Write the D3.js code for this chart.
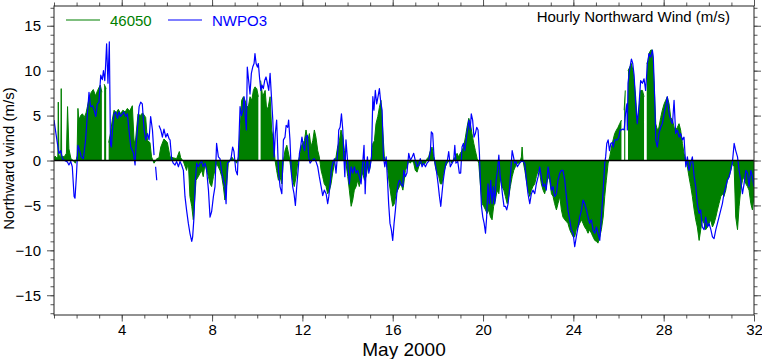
<!DOCTYPE html>
<html>
<head>
<meta charset="utf-8">
<script src="https://cdn.jsdelivr.net/npm/d3@7"></script>
<style>
  body { margin: 0; background: #fff; }
  text { font-family: "Liberation Sans", Arial, sans-serif; }
</style>
</head>
<body>
<svg id="chart" width="762" height="359"></svg>
<script>
'use strict';

/*
 * data: hourly northward wind (m/s), May 2000, [day of month, value]
 * null marks a gap in the record
 */

var buoy46050 = [
  [1.00, 0.2], [1.05, 0.5], [1.10, 0.3], [1.17, 0.4], [1.19, 6.5], [1.22, 0.6], [1.30, 0.3], [1.32, 8.0],
  [1.34, 0.5], [1.45, 0.4], [1.55, 0.8], [1.60, 6.0], [1.66, 1.3], [1.75, 0.2], [1.85, 0.0], [1.95, -0.3],
  [2.02, 0.5], [2.06, 5.8], [2.10, 4.5], [2.18, 5.0], [2.26, 5.2], [2.34, 4.8], [2.42, 5.3], [2.48, 6.0],
  [2.56, 7.0], [2.65, 7.6], [2.74, 7.9], [2.84, 7.2], [2.93, 7.8], [3.05, 8.4], [3.12, 7.6], [3.15, null],
  [3.22, 8.5], [3.31, 8.0], [3.34, null], [3.42, 2.0], [3.50, 3.0], [3.58, 4.5], [3.66, 5.6], [3.75, 5.3],
  [3.85, 5.7], [3.95, 5.2], [4.05, 5.6], [4.15, 5.4], [4.25, 5.8], [4.35, 5.5], [4.47, 6.1], [4.55, 1.9],
  [4.62, 2.5], [4.72, 5.2], [4.82, 5.0], [4.92, 5.3], [5.06, 4.8], [5.14, 2.2], [5.25, 2.0], [5.32, 0.4],
  [5.43, -0.3], [5.55, 0.2], [5.65, 0.3], [5.73, 1.5], [5.87, 2.4], [6.02, 2.0], [6.14, 0.4], [6.28, 0.3],
  [6.43, 0.2], [6.55, 1.0], [6.61, 0.3], [6.73, -0.1], [6.87, -1.1], [6.95, -0.2], [7.02, -4.0], [7.10, -5.1],
  [7.17, -6.6], [7.22, -4.8], [7.29, -2.2], [7.39, -1.8], [7.47, -1.4], [7.54, -1.1], [7.61, -1.8], [7.69, -0.3],
  [7.76, -1.1], [7.84, -1.8], [7.91, -2.6], [7.98, -2.9], [8.06, -1.8], [8.20, -0.3], [8.35, -1.1], [8.43, -1.8],
  [8.50, -2.9], [8.57, -4.4], [8.65, -2.6], [8.72, -0.3], [8.87, 0.4], [9.02, -0.1], [9.09, -0.3], [9.17, 0.4],
  [9.24, 3.4], [9.31, 6.7], [9.39, 7.1], [9.46, 6.7], [9.54, 6.0], [9.61, 6.0], [9.68, 7.1], [9.76, 6.7],
  [9.83, 7.8], [9.90, 8.2], [9.98, 8.0], [10.05, 7.1], [10.10, null], [10.15, 8.9], [10.24, 7.1], [10.35, 7.8],
  [10.42, 5.6], [10.49, 6.0], [10.57, 7.1], [10.64, 3.4], [10.72, 2.2], [10.79, 0.0], [10.86, -1.1], [10.94, -2.2],
  [11.01, -1.8], [11.09, -2.6], [11.16, 0.0], [11.23, 1.1], [11.31, 1.7], [11.42, 0.4], [11.50, -1.1], [11.57, -2.2],
  [11.64, -2.9], [11.72, -1.8], [11.79, -0.3], [11.87, 0.4], [11.94, 1.5], [12.01, 1.9], [12.09, 2.2], [12.16, 3.4],
  [12.24, 2.2], [12.31, 3.0], [12.38, 1.5], [12.46, 2.2], [12.53, 3.4], [12.60, 2.6], [12.68, 1.1], [12.75, 0.4],
  [12.83, -1.1], [12.90, -1.8], [12.97, -2.6], [13.05, -2.9], [13.12, -3.7], [13.20, -3.3], [13.27, -2.6], [13.34, -1.4],
  [13.42, -0.3], [13.49, 0.4], [13.56, 1.5], [13.64, 2.2], [13.71, 3.4], [13.79, 2.6], [13.86, 1.1], [13.93, -0.3],
  [14.01, -1.8], [14.08, -3.3], [14.16, -5.1], [14.23, -4.4], [14.30, -3.3], [14.38, -2.9], [14.45, -2.2], [14.52, -2.9],
  [14.60, -1.8], [14.67, -1.4], [14.75, -2.2], [14.82, -1.8], [14.89, -0.7], [14.97, -1.1], [15.04, 0.0], [15.12, 1.9],
  [15.19, 2.2], [15.26, 4.1], [15.34, 4.9], [15.41, 5.9], [15.48, 6.7], [15.56, 3.4], [15.63, 0.4], [15.71, -0.3],
  [15.78, -1.1], [15.85, -2.6], [15.93, -4.0], [16.00, -5.1], [16.08, -4.8], [16.15, -3.7], [16.22, -3.3], [16.30, -2.9],
  [16.37, -2.6], [16.45, -3.3], [16.49, -2.6], [16.56, -1.1], [16.63, -0.7], [16.71, -0.1], [16.78, -0.3], [16.86, 0.0],
  [16.93, -0.3], [17.00, -1.1], [17.08, -1.3], [17.15, -0.7], [17.22, -0.3], [17.30, -0.5], [17.45, -0.3], [17.52, 0.2],
  [17.59, 0.4], [17.67, 1.1], [17.74, 1.5], [17.82, 0.4], [17.89, -0.7], [17.96, -1.4], [18.04, -1.8], [18.11, -2.6],
  [18.18, -2.6], [18.26, -1.4], [18.33, -0.7], [18.41, -0.3], [18.48, -0.1], [18.55, 0.0], [18.63, -0.3], [18.70, 0.2],
  [18.78, 0.4], [18.85, 0.8], [18.92, 0.4], [18.99, 0.8], [19.07, 1.1], [19.14, 1.5], [19.22, 2.6], [19.29, 3.7],
  [19.37, 4.7], [19.44, 4.1], [19.51, 3.0], [19.59, 1.9], [19.66, 1.1], [19.74, 0.2], [19.81, -0.3], [19.88, -2.6],
  [19.96, -4.8], [20.03, -5.1], [20.11, -5.5], [20.18, -5.9], [20.25, -5.5], [20.33, -6.3], [20.40, -6.6], [20.47, -5.1],
  [20.55, -4.4], [20.62, -3.3], [20.70, -3.7], [20.77, -1.8], [20.84, -2.9], [20.92, -3.3], [20.99, -4.0], [21.07, -4.8],
  [21.14, -4.0], [21.21, -2.9], [21.29, -1.8], [21.36, -1.1], [21.43, -0.7], [21.51, -0.3], [21.58, -0.3], [21.62, -0.3],
  [21.70, 0.4], [21.73, 1.5], [21.77, 0.0], [21.85, -1.1], [21.92, -2.2], [21.99, -3.3], [22.07, -4.0], [22.14, -3.3],
  [22.21, -2.9], [22.29, -2.6], [22.36, -1.8], [22.44, -1.1], [22.51, -1.4], [22.58, -2.6], [22.66, -3.3], [22.73, -3.7],
  [22.80, -2.9], [22.88, -1.8], [22.95, -2.2], [23.03, -3.7], [23.10, -4.0], [23.17, -4.8], [23.25, -5.5], [23.32, -4.8],
  [23.40, -4.0], [23.47, -5.5], [23.54, -6.3], [23.62, -6.6], [23.69, -6.8], [23.76, -7.0], [23.84, -7.7], [23.91, -8.1],
  [23.99, -8.5], [24.06, -8.5], [24.13, -7.7], [24.21, -7.4], [24.28, -7.0], [24.36, -6.6], [24.43, -7.0], [24.50, -7.4],
  [24.58, -7.7], [24.65, -8.1], [24.72, -7.7], [24.80, -8.1], [24.87, -8.5], [24.95, -8.9], [25.02, -9.0], [25.09, -9.2],
  [25.17, -8.5], [25.24, -7.7], [25.32, -6.3], [25.39, -4.0], [25.46, -2.2], [25.54, -0.3], [25.61, 0.4], [25.69, 1.5],
  [25.76, 2.3], [25.83, 3.0], [25.91, 3.4], [25.98, 3.7], [26.05, 4.1], [26.13, 4.5], [26.17, null], [26.25, 5.6],
  [26.30, 7.8], [26.35, null], [26.42, 10.0], [26.50, 10.4], [26.57, 10.8], [26.64, 10.0], [26.69, 8.9], [26.76, 7.1],
  [26.83, 4.1], [26.91, 5.6], [26.98, 7.8], [27.06, 7.8], [27.13, 7.1], [27.20, null], [27.25, 10.8], [27.31, 11.1],
  [27.35, 11.9], [27.43, 12.3], [27.50, 12.3], [27.57, 8.9], [27.65, 4.1], [27.72, 3.4], [27.79, 3.7], [27.87, 4.8],
  [27.94, 5.6], [28.02, 6.3], [28.09, 6.7], [28.16, 7.1], [28.24, 6.3], [28.31, 4.8], [28.39, 4.5], [28.46, 3.7],
  [28.53, 3.4], [28.61, 3.7], [28.68, 4.1], [28.75, 3.4], [28.83, 1.9], [28.90, 0.8], [28.98, 0.0], [29.05, -0.7],
  [29.12, -1.8], [29.20, -2.9], [29.27, -4.0], [29.35, -5.5], [29.42, -6.6], [29.49, -7.4], [29.57, -8.9], [29.64, -7.7],
  [29.71, -6.6], [29.79, -7.0], [29.86, -7.7], [29.94, -7.4], [30.01, -7.0], [30.08, -6.6], [30.16, -7.4], [30.23, -7.0],
  [30.31, -6.3], [30.38, -5.5], [30.45, -4.8], [30.53, -4.0], [30.60, -3.7], [30.67, -4.0], [30.75, -3.3], [30.82, -2.2],
  [30.90, -1.8], [30.97, -1.1], [31.04, -0.3], [31.12, -0.7], [31.19, -6.3], [31.27, -7.7], [31.34, -5.1], [31.41, -3.3],
  [31.49, -2.2], [31.56, -1.8], [31.64, -2.6], [31.71, -2.9], [31.78, -3.3], [31.86, -4.8], [31.93, -5.5], [32.00, -4.0]
];

var stationNWPO3 = [
  [1.00, 4.5], [1.15, 1.9], [1.22, 0.8], [1.30, 1.1], [1.37, 0.2], [1.47, 0.0], [1.59, -0.15], [1.66, -0.5],
  [1.74, -0.1], [1.81, -0.7], [1.89, -4.0], [1.93, -4.2], [1.99, -1.8], [2.06, 1.7], [2.15, 1.0], [2.21, 0.4],
  [2.30, 0.2], [2.40, 2.3], [2.48, 5.2], [2.55, 7.6], [2.62, 6.0], [2.70, 6.1], [2.77, 5.7], [2.85, 4.9],
  [2.92, 6.3], [2.99, 6.5], [3.07, 9.5], [3.14, 9.0], [3.19, 10.0], [3.25, 8.9], [3.29, 10.8], [3.33, 13.0],
  [3.39, 8.6], [3.45, 13.2], [3.50, 1.8], [3.54, 1.5], [3.60, 3.7], [3.66, 5.2], [3.73, 5.4], [3.81, 4.7],
  [3.88, 5.4], [3.95, 4.9], [4.03, 5.2], [4.10, 5.4], [4.18, 4.9], [4.25, 5.2], [4.32, 3.4], [4.40, 1.5],
  [4.52, 0.8], [4.59, -0.5], [4.63, 1.5], [4.69, 3.4], [4.77, 6.0], [4.84, 6.5], [4.91, 6.3], [4.99, 3.4],
  [5.06, 2.3], [5.14, 3.0], [5.21, 2.3], [5.28, 4.9], [5.36, 3.4], [5.43, 0.6], [5.47, null], [5.50, -0.7],
  [5.55, -2.2], [5.60, null], [5.65, 3.9], [5.73, 3.4], [5.80, 2.6], [5.87, 3.5], [5.95, 2.6], [6.02, 3.0],
  [6.10, 2.4], [6.14, 2.3], [6.21, 0.2], [6.28, -0.3], [6.36, -0.5], [6.43, -0.1], [6.51, -0.7], [6.58, -0.1],
  [6.65, -0.5], [6.73, -1.1], [6.80, -4.0], [6.87, -5.5], [6.95, -7.0], [7.02, -8.1], [7.10, -9.0], [7.14, -8.5],
  [7.20, -6.3], [7.26, -2.2], [7.32, -0.3], [7.39, -0.7], [7.47, -0.3], [7.54, -0.1], [7.61, -0.7], [7.69, -0.3],
  [7.76, -1.1], [7.84, -3.3], [7.91, -6.3], [7.98, -5.7], [8.06, -4.0], [8.13, -2.9], [8.20, 1.9], [8.28, 0.4],
  [8.35, 0.2], [8.43, -1.3], [8.50, -2.2], [8.57, -2.9], [8.62, -4.8], [8.68, -0.3], [8.77, -0.1], [8.84, 0.2],
  [8.91, 1.5], [8.97, 1.0], [9.05, -1.1], [9.12, -1.6], [9.19, 2.3], [9.24, 6.0], [9.30, 5.0], [9.36, 5.6],
  [9.42, 7.1], [9.47, 4.9], [9.52, 3.4], [9.56, 10.4], [9.62, 8.9], [9.68, 7.4], [9.74, 9.7], [9.80, 10.4],
  [9.86, 10.8], [9.90, 11.9], [9.95, 10.8], [10.01, 10.4], [10.05, 10.8], [10.10, 9.3], [10.16, 7.8], [10.21, 8.4],
  [10.27, 8.0], [10.33, 8.9], [10.39, 9.3], [10.45, 8.6], [10.51, 7.8], [10.57, 9.7], [10.63, 7.1], [10.69, 4.5],
  [10.75, 0.4], [10.80, 3.0], [10.86, 4.5], [10.94, -1.1], [11.01, -2.9], [11.09, -3.7], [11.16, 2.3], [11.23, 2.6],
  [11.28, 3.9], [11.35, 3.7], [11.39, 4.5], [11.45, 2.3], [11.51, -1.4], [11.57, -2.9], [11.63, -3.7], [11.69, -5.0],
  [11.75, -2.9], [11.81, -1.1], [11.87, 0.8], [11.92, 1.5], [11.98, 2.6], [12.04, 1.7], [12.10, 1.1], [12.16, 2.6],
  [12.22, 2.8], [12.28, 0.4], [12.34, -0.3], [12.43, 0.0], [12.52, 0.2], [12.60, -0.1], [12.68, -0.7], [12.75, -1.8],
  [12.83, -2.9], [12.90, -3.9], [12.97, -3.3], [13.05, -3.7], [13.12, -4.8], [13.17, -4.0], [13.23, -2.6], [13.28, -1.1],
  [13.34, -0.3], [13.42, 0.2], [13.49, -1.4], [13.57, 1.1], [13.61, 3.4], [13.67, 3.7], [13.73, 5.2], [13.79, 3.4],
  [13.85, -0.3], [13.88, -1.8], [13.93, 2.3], [14.01, -0.3], [14.08, -2.6], [14.16, -0.7], [14.23, -1.4], [14.30, -0.7],
  [14.38, -1.4], [14.45, -1.1], [14.52, -1.8], [14.60, -2.6], [14.67, -0.3], [14.73, 1.7], [14.78, -3.7], [14.82, -1.1],
  [14.88, 0.4], [14.94, -1.4], [15.00, -0.7], [15.06, 0.4], [15.12, 7.1], [15.17, 5.6], [15.23, 7.8], [15.29, 6.3],
  [15.35, 7.1], [15.41, 8.0], [15.47, 6.5], [15.53, 5.6], [15.59, 0.4], [15.65, -0.7], [15.71, 0.4], [15.77, -2.2],
  [15.82, -4.8], [15.88, -7.0], [15.94, -7.7], [16.00, -8.9], [16.06, -7.0], [16.12, -5.5], [16.18, -3.7], [16.24, -2.6],
  [16.30, -2.2], [16.37, -2.6], [16.45, -2.9], [16.49, -1.1], [16.56, -1.8], [16.63, -1.4], [16.71, 0.8], [16.78, 0.0],
  [16.86, 0.4], [16.93, 0.8], [17.00, 0.0], [17.08, -0.7], [17.15, -0.5], [17.22, 0.2], [17.30, -0.7], [17.37, -0.3],
  [17.45, -0.7], [17.52, -0.3], [17.59, -0.1], [17.67, 1.1], [17.71, 3.2], [17.77, 3.0], [17.83, 0.4], [17.89, -0.5],
  [17.95, -1.4], [18.01, -2.6], [18.07, -4.0], [18.13, -5.1], [18.18, -3.7], [18.24, -2.2], [18.30, -1.1], [18.36, -0.3],
  [18.42, 0.0], [18.48, 1.0], [18.55, -0.7], [18.63, -0.3], [18.70, 0.0], [18.75, 1.7], [18.80, -0.3], [18.88, -0.1],
  [18.95, -1.4], [19.01, -1.4], [19.07, 1.5], [19.13, 1.9], [19.19, 1.1], [19.25, 2.2], [19.31, 3.4], [19.37, 4.5],
  [19.43, 3.4], [19.48, 5.2], [19.54, 4.5], [19.60, 2.6], [19.66, 3.0], [19.72, 3.7], [19.78, 3.4], [19.84, 0.8],
  [19.88, -2.2], [19.93, -5.1], [19.99, -6.3], [20.05, -7.0], [20.11, -8.1], [20.16, -6.3], [20.22, -2.6], [20.28, -4.8],
  [20.34, -2.2], [20.40, -4.8], [20.46, -2.9], [20.52, -4.8], [20.58, -2.2], [20.64, -1.1], [20.70, 0.6], [20.76, -1.8],
  [20.81, -2.6], [20.87, -4.0], [20.93, -5.1], [20.99, -5.1], [21.05, -5.5], [21.11, -4.8], [21.17, -3.3], [21.23, -1.1],
  [21.29, 1.1], [21.35, 0.4], [21.40, -0.3], [21.46, -0.1], [21.52, -0.7], [21.62, -0.3], [21.70, -0.1], [21.77, -0.1],
  [21.85, -0.3], [21.92, -2.2], [21.99, -3.7], [22.07, -4.8], [22.14, -3.7], [22.21, -3.3], [22.29, -3.7], [22.36, -2.6],
  [22.44, -1.8], [22.51, -0.7], [22.58, -1.8], [22.66, -2.9], [22.73, -2.6], [22.80, -3.3], [22.88, -0.7], [22.95, -1.8],
  [23.03, -3.3], [23.10, -2.9], [23.17, -4.0], [23.25, -3.7], [23.32, -2.2], [23.40, -1.4], [23.47, -1.1], [23.54, -1.1],
  [23.62, -2.2], [23.69, -4.0], [23.76, -5.5], [23.84, -6.6], [23.91, -7.7], [23.99, -8.1], [24.06, -9.6], [24.13, -8.5],
  [24.21, -7.4], [24.28, -6.3], [24.36, -5.5], [24.43, -4.4], [24.50, -4.8], [24.58, -5.5], [24.65, -6.3], [24.72, -7.0],
  [24.80, -6.6], [24.87, -7.7], [24.95, -8.1], [25.02, -7.4], [25.09, -8.1], [25.17, -8.9], [25.24, -6.3], [25.32, -3.3],
  [25.39, -0.3], [25.43, 0.4], [25.48, 1.9], [25.54, 2.3], [25.60, 1.1], [25.66, 1.9], [25.72, 2.0], [25.77, 1.5],
  [25.83, 2.3], [25.89, 2.3], [25.95, 2.3], [26.01, 2.6], [26.07, 3.4], [26.13, 3.4], [26.19, 3.5], [26.25, 3.4],
  [26.31, 5.2], [26.37, 6.3], [26.39, 3.4], [26.42, 8.6], [26.47, 9.7], [26.51, 10.4], [26.57, 11.3], [26.63, 10.8],
  [26.69, 9.5], [26.76, 6.3], [26.83, 4.1], [26.91, 6.3], [26.98, 8.9], [27.06, 8.6], [27.13, 9.1], [27.20, 7.8],
  [27.28, 10.8], [27.35, 11.9], [27.43, 11.5], [27.50, 12.3], [27.54, 11.5], [27.60, 7.1], [27.65, 2.3], [27.72, 1.5],
  [27.79, 3.0], [27.87, 3.7], [27.94, 4.1], [28.02, 5.2], [28.09, 6.0], [28.16, 7.1], [28.24, 5.2], [28.31, 4.5],
  [28.39, 4.1], [28.46, 6.7], [28.53, 3.0], [28.61, 3.4], [28.68, 2.6], [28.75, 3.0], [28.83, 2.3], [28.90, 2.6],
  [28.98, -0.7], [29.05, 0.4], [29.12, -1.1], [29.20, -0.3], [29.27, 0.4], [29.35, -1.8], [29.42, -2.9], [29.49, -4.8],
  [29.57, -5.9], [29.64, -5.5], [29.71, -7.4], [29.79, -7.7], [29.86, -6.3], [29.94, -7.4], [30.01, -7.0], [30.09, -7.7],
  [30.16, -8.5], [30.23, -8.7], [30.31, -7.7], [30.38, -7.0], [30.45, -6.3], [30.53, -5.5], [30.60, -4.8], [30.67, -3.7],
  [30.75, -2.9], [30.82, -2.2], [30.90, -1.8], [30.97, -1.1], [31.04, -0.3], [31.12, 1.9], [31.19, 1.1], [31.27, 0.4],
  [31.34, -1.1], [31.41, -2.2], [31.49, -3.7], [31.56, -2.6], [31.64, -1.1], [31.71, -1.4], [31.78, -2.9], [31.86, -1.1],
  [31.93, -1.8], [32.00, -2.9]
];

// axis ticks
var xMajorTicks = [4, 8, 12, 16, 20, 24, 28, 32];
var xMinorTicks = d3.range(1, 33);
var yMajorTicks = [-15, -10, -5, 0, 5, 10, 15];
var yMinorTicks = d3.range(-17, 18);

// labels
var seriesNames = ['46050', 'NWPO3'];
var seriesColors = ['#008000', '#0000ff'];
var chartTitle = 'Hourly Northward Wind (m/s)';
var xAxisLabel = 'May 2000';
var yAxisLabel = 'Northward wind (m/s)';


/*
 * layout
 */

var margin = { top: 6, right: 8, bottom: 44, left: 54 };
var width = 762 - margin.left - margin.right;
var height = 359 - margin.top - margin.bottom;

var svg = d3.select('#chart');
var g = svg.append('g').attr('transform', 'translate(' + margin.left + ',' + margin.top + ')');

var x = d3.scaleLinear().domain([1, 32]).range([0, width]);
var y = d3.scaleLinear().domain([-17.2, 17.2]).range([height, 0]);

g.append('clipPath').attr('id', 'plot-clip')
  .append('rect').attr('width', width).attr('height', height);

var plot = g.append('g').attr('clip-path', 'url(#plot-clip)');

function defined(d) { return d[1] !== null; }

// green filled area from zero for 46050
var area = d3.area()
  .defined(defined)
  .x(function(d) { return x(d[0]); })
  .y0(y(0))
  .y1(function(d) { return y(d[1]); });

var line = d3.line()
  .defined(defined)
  .x(function(d) { return x(d[0]); })
  .y(function(d) { return y(d[1]); });

plot.append('path')
  .datum(buoy46050)
  .attr('d', area)
  .attr('fill', seriesColors[0]);

plot.append('path')
  .datum(buoy46050)
  .attr('d', line)
  .attr('fill', 'none')
  .attr('stroke', seriesColors[0])
  .attr('stroke-width', 1);

plot.append('path')
  .datum(stationNWPO3)
  .attr('d', line)
  .attr('fill', 'none')
  .attr('stroke', seriesColors[1])
  .attr('stroke-width', 1.2)
  .attr('stroke-linejoin', 'round');

// zero reference line
g.append('line')
  .attr('x1', 0).attr('x2', width)
  .attr('y1', y(0)).attr('y2', y(0))
  .attr('stroke', '#000')
  .attr('stroke-width', 1.5);


/*
 * axes: ticks on all four sides, pointing outward
 */

function styleAxis(sel) {
  sel.select('.domain').remove();
  sel.selectAll('.tick line').attr('stroke', '#555');
  sel.selectAll('.tick text')
    .attr('fill', '#000')
    .style('font-size', '15px')
    .style('font-family', '"Liberation Sans", Arial, sans-serif');
}

function addAxis(axisFn, scale, ticks, size, transform, labels, pad) {
  var a = axisFn(scale).tickValues(ticks).tickSize(size).tickPadding(pad || 6);
  if (!labels) a.tickFormat('');
  g.append('g').attr('transform', transform).call(a).call(styleAxis);
}

var bottomT = 'translate(0,' + height + ')';
var rightT = 'translate(' + width + ',0)';

addAxis(d3.axisBottom, x, xMinorTicks, 3.5, bottomT, false);
addAxis(d3.axisBottom, x, xMajorTicks, 6.5, bottomT, true, 3);
addAxis(d3.axisTop, x, xMinorTicks, 3.5, 'translate(0,0)', false);
addAxis(d3.axisTop, x, xMajorTicks, 6.5, 'translate(0,0)', false);
addAxis(d3.axisLeft, y, yMinorTicks, 3.5, 'translate(0,0)', false);
addAxis(d3.axisLeft, y, yMajorTicks, 7, 'translate(0,0)', true);
addAxis(d3.axisRight, y, yMinorTicks, 3.5, rightT, false);
addAxis(d3.axisRight, y, yMajorTicks, 7, rightT, false);

// frame
g.append('rect')
  .attr('width', width).attr('height', height)
  .attr('fill', 'none')
  .attr('stroke', '#222')
  .attr('stroke-width', 1);


/*
 * titles and legend
 */

g.append('text')
  .attr('x', width - 24)
  .attr('y', 16)
  .attr('text-anchor', 'end')
  .style('font-size', '15px')
  .text(chartTitle);

svg.append('text')
  .attr('x', margin.left + width / 2)
  .attr('y', 356)
  .attr('text-anchor', 'middle')
  .style('font-size', '19px')
  .text(xAxisLabel);

svg.append('text')
  .attr('transform', 'translate(14,' + (margin.top + height / 2 - 2) + ') rotate(-90)')
  .attr('text-anchor', 'middle')
  .style('font-size', '15px')
  .text(yAxisLabel);

var legend = g.append('g').attr('transform', 'translate(12,14)');
var legendX = [0, 102];

seriesNames.forEach(function(name, i) {
  var item = legend.append('g').attr('transform', 'translate(' + legendX[i] + ',0)');
  item.append('line')
    .attr('x1', 0).attr('x2', 34)
    .attr('y1', 0).attr('y2', 0)
    .attr('stroke', seriesColors[i])
    .attr('stroke-width', 1.2);
  item.append('text')
    .attr('x', 44)
    .attr('y', 5.5)
    .attr('fill', seriesColors[i])
    .style('font-size', '15px')
    .text(name);
});
</script>
</body>
</html>
